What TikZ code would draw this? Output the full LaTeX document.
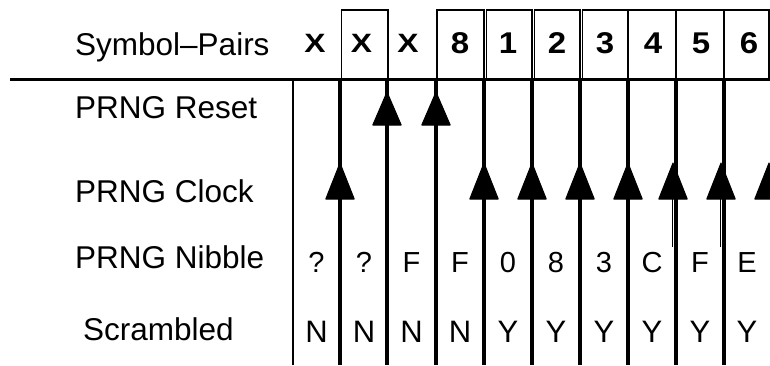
\documentclass[tikz,border=0pt]{standalone}
\usepackage{fontspec}
\setmainfont{Liberation Sans}
\begin{document}
\begin{tikzpicture}[x=1pt,y=-1pt,
  lab/.style={anchor=base west,inner sep=0pt,font=\fontsize{31.5}{36}\selectfont},
  symx/.style={anchor=base,inner sep=0pt,xscale=1.2,font=\bfseries\fontsize{26.5}{30}\selectfont},
  symd/.style={anchor=base,inner sep=0pt,xscale=1.1,font=\bfseries\fontsize{30}{34}\selectfont},
  cell/.style={anchor=base,inner sep=0pt,font=\fontsize{29}{34}\selectfont},
  flag/.style={anchor=base,inner sep=0pt,font=\fontsize{31}{36}\selectfont},
  rule/.style={line width=3.2pt},
  hrule/.style={line width=3pt},
  thinrule/.style={line width=1.3pt},
  boxed/.style={draw,line width=1.6pt},
  head/.style={fill=black,draw=black,line width=1pt,line join=round},
  stem/.style={line width=1.6pt},
]
\useasboundingbox (0,0) rectangle (770,365);
\clip (0,0) rectangle (770,365);
\newcommand\headat[3]{\filldraw[head] (#1-14.2,#3) -- (#1,#2) -- (#1+14.2,#3) -- cycle;}

% row labels
\node[lab] (lsym) at (75,55) {Symbol–Pairs};
\node[lab] (lrst) at (75,118) {PRNG Reset};
\node[lab] (lclk) at (75,202) {PRNG Clock};
\node[lab] (lnib) at (75,268) {PRNG Nibble};
\node[lab] (lscr) at (83,340) {Scrambled};

% top boxes
\draw[boxed] (341.5,10) rectangle (388,79);
\draw[boxed] (437,10) rectangle (484,79);
\draw[boxed] (486.5,10) rectangle (532,79);
\draw[boxed] (534.5,10) rectangle (580,79);
\draw[boxed] (582.5,10) rectangle (628,79);
\draw[boxed] (628,10) rectangle (676,79);
\draw[boxed] (676,10) rectangle (724,79);
\draw[boxed] (724,10) rectangle (769,79);

% top symbols
\node[symx] (s1) at (315,52) {X};
\node[symx] (s2) at (361.5,52) {X};
\node[symx] (s3) at (408,52) {X};
\node[symd] (s4) at (460,53) {8};
\node[symd] (s5) at (508,53) {1};
\node[symd] (s6) at (557,53) {2};
\node[symd] (s7) at (605,53) {3};
\node[symd] (s8) at (653,53) {4};
\node[symd] (s9) at (701,53) {5};
\node[symd] (s10) at (749,53) {6};

% horizontal rule and verticals
\draw[hrule] (10,79) -- (770,79);
\draw[thinrule] (293,79) -- (293,365);
\foreach \x in {340,387,436,484,532,580,628,676,724}
  \draw[rule] (\x,79) -- (\x,365);

% reset arrowheads
\headat{387}{92}{125}
\headat{436}{92}{125}
% clock arrowheads
\foreach \x in {340,484,532,580,628,673,721,769}
  \headat{\x}{163}{199}
\draw[stem] (672.5,199) -- (672.5,247);
\draw[stem] (720.5,199) -- (720.5,247);

% nibbles
\foreach \x/\c [count=\i] in {316.5/?,364/?,411.5/F,460/F,508/0,556/8,604/3,652/C,700/F,747/E}
  \node[cell] (n\i) at (\x,272) {\c};
% scrambled
\foreach \x/\c [count=\i] in {316.5/N,364/N,411.5/N,460/N,508/Y,556/Y,604/Y,652/Y,700/Y,747/Y}
  \node[flag] (f\i) at (\x,342) {\c};
\end{tikzpicture}
\end{document}
